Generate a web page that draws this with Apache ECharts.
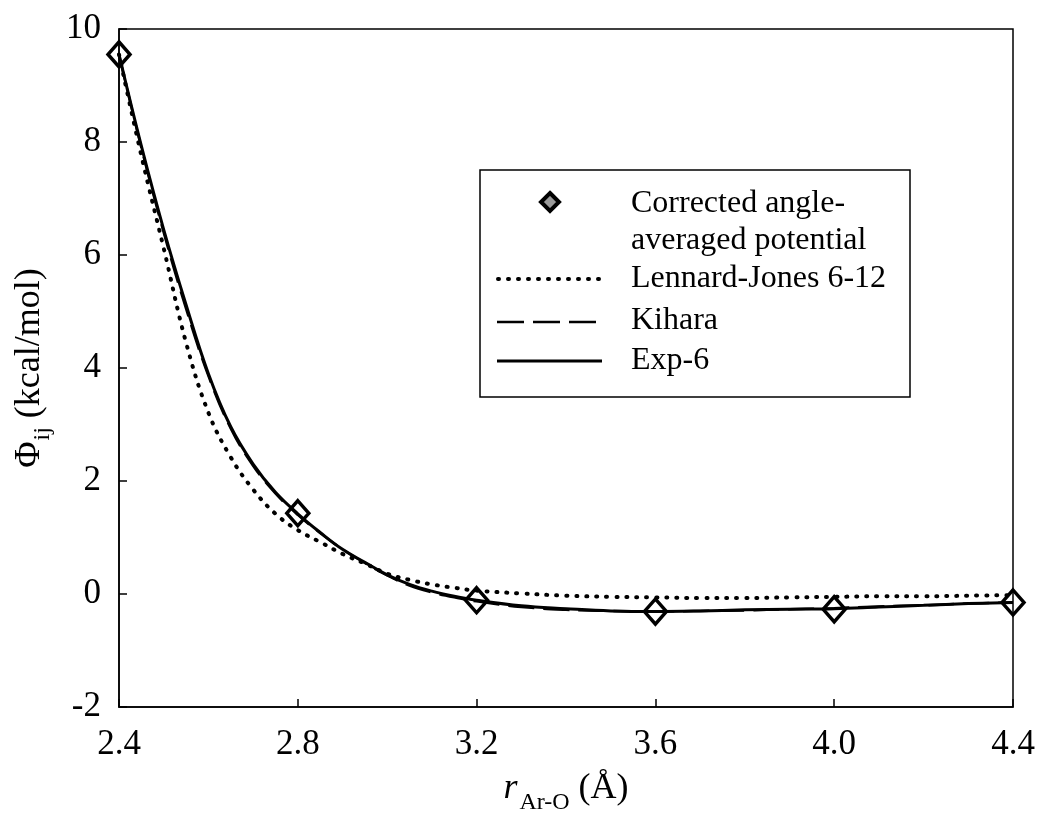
<!DOCTYPE html>
<html>
<head>
<meta charset="utf-8">
<script src="https://cdn.jsdelivr.net/npm/echarts@6/dist/echarts.min.js"></script>
<style>
  html, body { margin: 0; padding: 0; background: #fff; }
  #chart { width: 1039px; height: 828px; }
</style>
</head>
<body>
<div id="chart"></div>
<script>
// ---- Data ----
const curveR = [2.40, 2.45, 2.50, 2.55, 2.60, 2.65, 2.70, 2.75, 2.80, 2.85, 2.90, 2.95, 3.00, 3.05, 3.10, 3.15, 3.20, 3.30, 3.40, 3.50, 3.60, 3.70, 3.80, 3.90, 4.00, 4.10, 4.20, 4.30, 4.40];
const exp6   = [9.55, 7.93, 6.45, 5.12, 3.90, 2.96, 2.30, 1.80, 1.42, 1.09, 0.79, 0.56, 0.34, 0.17, 0.05, -0.04, -0.11, -0.21, -0.26, -0.30, -0.31, -0.30, -0.28, -0.27, -0.26, -0.23, -0.20, -0.17, -0.15];
const kihara = [9.55, 7.90, 6.40, 5.05, 3.86, 2.93, 2.27, 1.78, 1.40, 1.08, 0.79, 0.55, 0.33, 0.15, 0.03, -0.06, -0.13, -0.23, -0.28, -0.30, -0.31, -0.30, -0.29, -0.27, -0.25, -0.22, -0.20, -0.17, -0.15];
const lj     = [9.55, 7.76, 6.12, 4.45, 3.21, 2.42, 1.85, 1.42, 1.13, 0.92, 0.71, 0.54, 0.36, 0.25, 0.17, 0.11, 0.06, 0.01, -0.03, -0.05, -0.06, -0.07, -0.07, -0.06, -0.05, -0.04, -0.04, -0.03, -0.02];
const pointR = [2.4, 2.8, 3.2, 3.6, 4.0, 4.4];
const pointV = [9.55, 1.43, -0.11, -0.31, -0.27, -0.15];
const legendNames = ['Corrected angle-', 'averaged potential', 'Lennard-Jones 6-12', 'Kihara', 'Exp-6'];

const FONT = 'Liberation Serif';
const pair = (xs, ys) => xs.map((x, i) => [x, ys[i]]);

const chart = echarts.init(document.getElementById('chart'), null, { renderer: 'canvas' });

const lineBase = {
  type: 'line', showSymbol: false, symbol: 'none', smooth: 0.4,
  clip: false, silent: true, animation: false
};

const option = {
  backgroundColor: '#fff',
  animation: false,
  grid: { left: 119, right: 26, top: 29, bottom: 121, show: true, borderColor: '#000', borderWidth: 1.5, backgroundColor: 'transparent' },
  xAxis: {
    type: 'value', min: 2.4, max: 4.4, interval: 0.4,
    axisLine: { show: true, onZero: false, lineStyle: { color: '#000', width: 1.5 } },
    axisTick: { show: true, inside: true, length: 8, lineStyle: { color: '#000', width: 1.5 } },
    splitLine: { show: false },
    axisLabel: { color: '#000', fontFamily: FONT, fontSize: 35, margin: 20, formatter: v => v.toFixed(1) },
    name: '{i|r}{sub|Ar-O}{n| (Å)}',
    nameLocation: 'middle', nameGap: 64,
    nameTextStyle: {
      rich: {
        i: { fontFamily: FONT, fontSize: 36, fontStyle: 'italic', color: '#000', verticalAlign: 'top', lineHeight: 40 },
        sub: { fontFamily: FONT, fontSize: 24, color: '#000', verticalAlign: 'top', padding: [20, 0, 0, 2], lineHeight: 26 },
        n: { fontFamily: FONT, fontSize: 36, color: '#000', verticalAlign: 'top', lineHeight: 40 }
      }
    }
  },
  yAxis: {
    type: 'value', min: -2, max: 10, interval: 2,
    axisLine: { show: true, onZero: false, lineStyle: { color: '#000', width: 1.5 } },
    axisTick: { show: true, inside: true, length: 8, lineStyle: { color: '#000', width: 1.5 } },
    splitLine: { show: false },
    axisLabel: { color: '#000', fontFamily: FONT, fontSize: 35, margin: 18, formatter: v => String(v) },
    name: '{n|Φ}{sub|ij}{n| (kcal/mol)}',
    nameLocation: 'middle', nameGap: 57, nameRotate: 90,
    nameTextStyle: {
      rich: {
        sub: { fontFamily: FONT, fontSize: 24, color: '#000', verticalAlign: 'top', padding: [20, 0, 0, 1], lineHeight: 26 },
        n: { fontFamily: FONT, fontSize: 36, color: '#000', verticalAlign: 'top', lineHeight: 40 }
      }
    }
  },
  series: [
    Object.assign({}, lineBase, {
      name: 'Lennard-Jones 6-12', data: pair(curveR, lj),
      lineStyle: { color: '#000', width: 4, type: [1, 9], cap: 'round' }
    }),
    Object.assign({}, lineBase, {
      name: 'Kihara', data: pair(curveR, kihara),
      lineStyle: { color: '#000', width: 2.5, type: [26, 9] }
    }),
    Object.assign({}, lineBase, {
      name: 'Exp-6', data: pair(curveR, exp6),
      lineStyle: { color: '#000', width: 3 }
    }),
    {
      type: 'scatter', name: 'Corrected angle-averaged potential',
      data: pair(pointR, pointV), symbol: 'diamond', symbolSize: [22, 25], clip: false, silent: true,
      itemStyle: { color: 'rgba(255,255,255,0)', borderColor: '#000', borderWidth: 3.5, opacity: 1 }, z: 5
    }
  ],
  graphic: [
    { type: 'rect', shape: { x: 480, y: 170, width: 430, height: 227 }, style: { fill: '#fff', stroke: '#000', lineWidth: 1.5 }, z: 10 },
    { type: 'polygon', shape: { points: [[550, 193], [559, 202], [550, 211], [541, 202]] }, style: { fill: '#999', stroke: '#000', lineWidth: 4 }, z: 11 },
    { type: 'line', shape: { x1: 498, y1: 279, x2: 600, y2: 279 }, style: { stroke: '#000', lineWidth: 4, lineDash: [1, 9], lineCap: 'round' }, z: 11 },
    { type: 'line', shape: { x1: 497, y1: 322, x2: 600, y2: 322 }, style: { stroke: '#000', lineWidth: 2.5, lineDash: [27, 9] }, z: 11 },
    { type: 'line', shape: { x1: 497, y1: 361, x2: 602, y2: 361 }, style: { stroke: '#000', lineWidth: 3 }, z: 11 },
    { type: 'text', style: { text: legendNames[0], x: 631, y: 204, fontFamily: FONT, fontSize: 32, fill: '#000', verticalAlign: 'middle' }, z: 11 },
    { type: 'text', style: { text: legendNames[1], x: 631, y: 241, fontFamily: FONT, fontSize: 32, fill: '#000', verticalAlign: 'middle' }, z: 11 },
    { type: 'text', style: { text: legendNames[2], x: 631, y: 279, fontFamily: FONT, fontSize: 32, fill: '#000', verticalAlign: 'middle' }, z: 11 },
    { type: 'text', style: { text: legendNames[3], x: 631, y: 321, fontFamily: FONT, fontSize: 32, fill: '#000', verticalAlign: 'middle' }, z: 11 },
    { type: 'text', style: { text: legendNames[4], x: 631, y: 361, fontFamily: FONT, fontSize: 32, fill: '#000', verticalAlign: 'middle' }, z: 11 }
  ]
};

chart.setOption(option);
</script>
</body>
</html>
